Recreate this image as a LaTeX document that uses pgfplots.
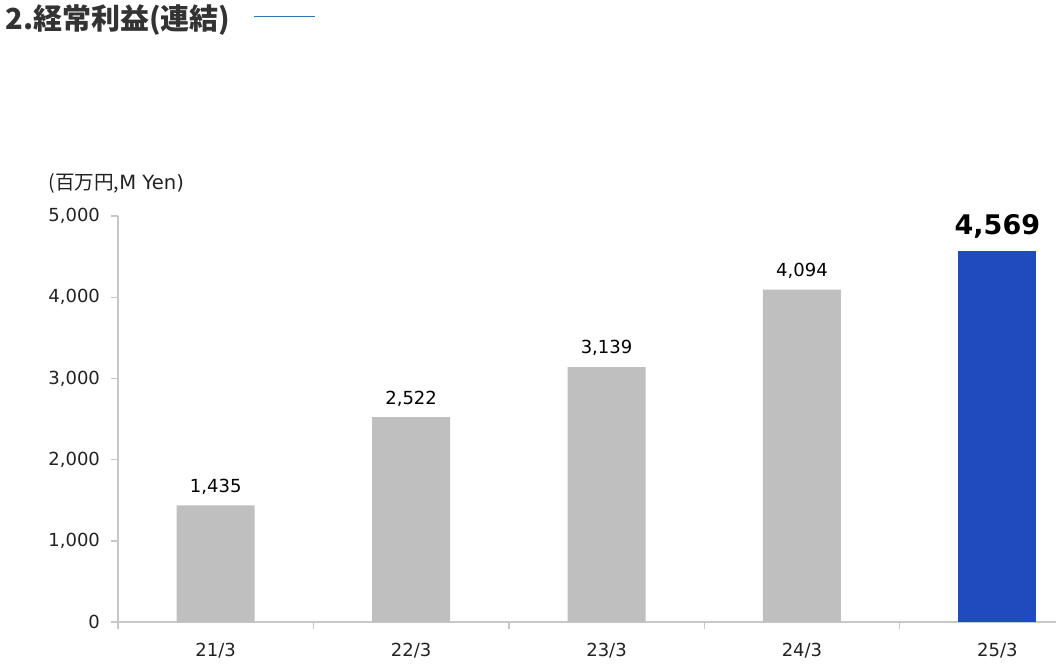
\documentclass[border=0pt]{standalone}
\usepackage{pgfplots}
\pgfplotsset{compat=1.18}
\usepackage{fontspec}
\setmainfont{DejaVu Sans}
\newfontfamily\cjk{Noto Sans CJK JP}
\definecolor{barg}{HTML}{BFBFBF}
\definecolor{barb}{HTML}{1F4BBF}
\definecolor{axg}{HTML}{C8C8C8}
\definecolor{ttl}{HTML}{333333}
\definecolor{tline}{HTML}{2E75B6}
\definecolor{lbl}{HTML}{222222}
\begin{document}
\begin{tikzpicture}
\useasboundingbox (0,0) rectangle (528pt,332.5pt);
\node[anchor=west, text=ttl, font=\cjk\bfseries\fontsize{14.5}{16}\selectfont, inner sep=0pt] at (2.5pt,322.5pt) {2.経常利益(連結)};
\draw[tline, line width=0.5pt] (127pt,324pt) -- (157.5pt,324pt);
\node[anchor=west, inner sep=0pt, text=lbl, font=\fontsize{9.8}{11}\selectfont] at (24pt,241pt) {{\cjk (百万円,}M Yen)};
\begin{axis}[
  at={(59pt,21.5pt)}, anchor=south west,
  scale only axis, width=469pt, height=203pt,
  xmin=-0.5, xmax=4.3, ymin=0, ymax=5000,
  ybar, bar width=39pt, bar shift=0pt,
  axis x line*=bottom, axis y line*=left,
  axis line style={axg, line width=0.7pt, -},
  /pgf/number format/.cd, 1000 sep={,}, assume math mode=true, /pgfplots/.cd,
  ytick={0,1000,2000,3000,4000,5000},
  yticklabel style={font=\fontsize{9}{10}\selectfont, text=lbl, xshift=-2pt},
  ytick style={draw=axg, line width=0.7pt},
  tick align=outside, major tick length=3.5pt,
  xtick={0,1,2,3,4},
  xticklabels={21/3,22/3,23/3,24/3,25/3},
  xticklabel style={font=\fontsize{9}{10}\selectfont, text=lbl, yshift=-3.5pt},
  xtick style={draw=none},
  extra x ticks={-0.5,0.5,1.5,2.5,3.5},
  extra x tick labels={},
  extra x tick style={xtick style={draw=axg, line width=0.7pt}},
  nodes near coords,
  every node near coord/.append style={text=black, yshift=2pt},
]
\addplot[fill=barg, draw=none, nodes near coords style={font=\fontsize{9}{10}\selectfont}] coordinates {(0,1435) (1,2522) (2,3139) (3,4094)};
\addplot[fill=barb, draw=none, nodes near coords style={font=\bfseries\fontsize{13.5}{15}\selectfont, yshift=1pt}] coordinates {(4,4569)};
\end{axis}
\end{tikzpicture}
\end{document}
